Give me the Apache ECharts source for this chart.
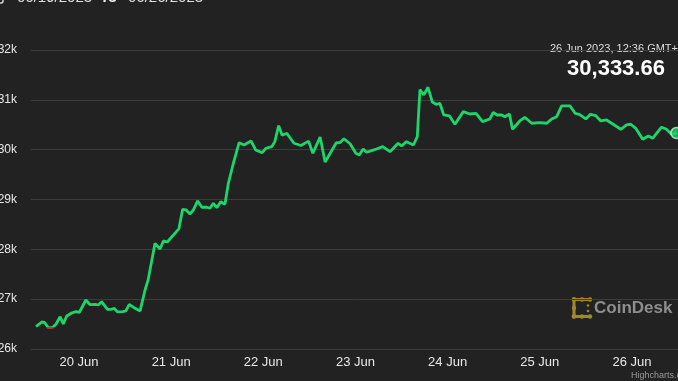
<!DOCTYPE html>
<html><head><meta charset="utf-8">
<script src="https://cdn.jsdelivr.net/npm/echarts@6/dist/echarts.min.js"></script>
<style>html,body{margin:0;padding:0;background:#222222;overflow:hidden}#c{width:678px;height:381px}</style>
</head><body><div id="c"></div>
<script>
// hours measured from 20 Jun 2023 00:00
const hoursFrom20Jun = [-11.2,-9.7,-9.0,-8.0,-6.8,-6.0,-4.9,-4.1,-3.2,-1.9,
  -0.8,0.1,1.8,2.9,4.2,5.0,5.9,7.4,8.5,9.2,
  10.0,11.4,12.2,13.1,14.6,15.9,17.2,18.0,19.8,21.1,
  22.0,23.0,24.6,26.0,27.0,27.9,28.9,29.8,30.9,32.0,
  33.3,34.1,35.0,35.9,36.9,38.0,38.9,40.2,41.7,43.0,
  44.8,46.0,47.7,48.7,50.2,51.0,52.0,52.9,54.1,56.0,
  57.8,59.8,60.9,62.8,64.1,67.0,68.0,69.0,70.6,72.1,
  73.0,74.0,74.9,76.2,77.5,79.1,81.0,83.1,84.0,85.3,
  87.1,88.1,88.8,89.8,90.9,92.0,93.0,94.0,95.0,96.5,
  97.9,100.1,101.8,103.4,105.1,107.0,107.9,108.9,110.1,110.9,
  112.1,112.9,114.8,116.1,117.9,120.0,121.8,123.1,124.4,125.7,
  127.9,129.2,130.3,132.0,133.2,134.6,135.9,137.4,139.1,141.1,
  142.6,143.7,145.0,146.8,148.3,149.4,151.7,152.9,154.3,155.6];
const prices = [26448,26542,26536,26427,26436,26496,26648,26502,26662,26722,
  26749,26737,26983,26889,26897,26883,26949,26797,26797,26817,
  26743,26749,26763,26897,26817,26763,27184,27385,28121,28007,
  28168,28147,28288,28410,28804,28790,28709,28790,28971,28844,
  28844,28824,28924,28836,28956,28904,29326,29727,30140,30094,
  30175,29994,29940,30028,30060,30161,30482,30289,30329,30128,
  30084,30171,29928,30255,29753,30138,30144,30219,30118,29928,
  29894,30014,29948,29980,30014,30060,29960,30128,30074,30161,
  30094,30261,31208,31098,31252,30957,30911,30927,30696,30676,
  30510,30763,30716,30730,30562,30616,30750,30696,30696,30662,
  30716,30409,30576,30650,30530,30542,30530,30616,30662,30877,
  30877,30730,30710,30616,30710,30682,30576,30596,30510,30409,
  30496,30510,30429,30209,30275,30229,30450,30415,30309,30333.66];
const dayTickHours = [0,24,48,72,96,120,144];
const dayLabels = ['20 Jun','21 Jun','22 Jun','23 Jun','24 Jun','25 Jun','26 Jun'];
const openPrice = prices[0];
const lastPrice = prices[prices.length-1];
const lastTimeLabel = '26 Jun 2023, 12:36 GMT+1';
const rangeFrom = '06/19/2023', rangeTo = '06/26/2023';

const GREEN = '#1cd66a', RED = '#dd2c22', GOLD = '#a4862c';
const data = hoursFrom20Jun.map((h,i)=>[h, prices[i]]);
const fmtNum = v => v.toLocaleString('en-US',{minimumFractionDigits:2, maximumFractionDigits:2});
const font = '"Liberation Sans", Arial, Helvetica, sans-serif';

const chart = echarts.init(document.getElementById('c'), null, {renderer:'canvas'});
chart.setOption({
  backgroundColor:'#222222',
  animation:false,
  textStyle:{fontFamily:font},
  grid:{left:31, right:0, top:50, bottom:32, containLabel:false, outerBoundsMode:'none'},
  xAxis:{type:'value', min:-12.5, max:156,
    splitLine:{show:false}, axisTick:{show:false},
    axisLine:{show:false},
    axisLabel:{customValues:dayTickHours, color:'#e8e8e8', fontSize:13, margin:7,
      formatter:v=>dayLabels[dayTickHours.indexOf(Math.round(v))] || ''}},
  yAxis:{type:'value', min:26000, max:32000, interval:1000,
    axisLine:{show:false}, axisTick:{show:false},
    splitLine:{lineStyle:{color:'#3d3d3d', width:1}},
    axisLabel:{color:'#e8e8e8', fontSize:12, margin:14, formatter:v=>(v/1000)+'k'}},
  visualMap:{show:false, type:'piecewise', seriesIndex:0, dimension:1,
    pieces:[{gte:20000, lt:openPrice, color:RED},{gte:openPrice, lte:40000, color:GREEN}],
    outOfRange:{color:GREEN}},
  series:[
    {type:'line', data:data, symbol:'none', lineStyle:{width:2.8}, z:5, clip:false},
    {type:'scatter', data:[data[data.length-1]], symbol:'circle', symbolSize:11, z:6, clip:false,
      itemStyle:{color:GREEN, borderColor:'#c8f5d8', borderWidth:1.5}}
  ],
  graphic:[
    {type:'rect', shape:{x:-12,y:-14,width:15,height:17,r:2}, style:{fill:'none', stroke:'#d8d8d8', lineWidth:1.5}},
    {type:'text', x:17, y:-2, style:{text:rangeFrom, font:'15px '+font, fill:'#e0e0e0', verticalAlign:'middle'}},
    {type:'text', x:100, y:-2, style:{text:'To', font:'bold 15px '+font, fill:'#f0f0f0', verticalAlign:'middle'}},
    {type:'text', x:128, y:-2, style:{text:rangeTo, font:'15px '+font, fill:'#e0e0e0', verticalAlign:'middle'}},
    {type:'text', x:617, y:48.5, style:{text:lastTimeLabel, font:'11px '+font, fill:'#dddddd', align:'center', verticalAlign:'middle'}},
    {type:'text', x:616, y:68.5, style:{text:fmtNum(lastPrice), font:'bold 22px '+font, fill:'#ffffff', align:'center', verticalAlign:'middle'}},
    {type:'polyline', shape:{points:[[590,299.5],[574,299.5],[574,316.5],[590,316.5]]}, style:{stroke:GOLD, lineWidth:3, fill:'none', lineJoin:'round', lineCap:'round'}},
    {type:'circle', shape:{cx:574,cy:299.5,r:2.4}, style:{fill:GOLD}},
    {type:'circle', shape:{cx:582,cy:299.5,r:2.2}, style:{fill:GOLD}},
    {type:'circle', shape:{cx:590,cy:299.5,r:2.2}, style:{fill:GOLD}},
    {type:'circle', shape:{cx:574,cy:308,r:2.2}, style:{fill:GOLD}},
    {type:'circle', shape:{cx:574,cy:316.5,r:2.4}, style:{fill:GOLD}},
    {type:'circle', shape:{cx:582,cy:316.5,r:2.2}, style:{fill:GOLD}},
    {type:'circle', shape:{cx:590,cy:316.5,r:2.2}, style:{fill:GOLD}},
    {type:'circle', shape:{cx:588,cy:305.5,r:1.3}, style:{fill:GOLD}},
    {type:'circle', shape:{cx:588,cy:311,r:1.3}, style:{fill:GOLD}},
    {type:'text', x:594, y:308.5, style:{text:'CoinDesk', font:'bold 17px '+font, fill:'#8e8e8e', verticalAlign:'middle'}},
    {type:'text', x:631, y:376, style:{text:'Highcharts.com', font:'9px '+font, fill:'#9a9a9a', verticalAlign:'middle'}}
  ]
});
</script></body></html>
